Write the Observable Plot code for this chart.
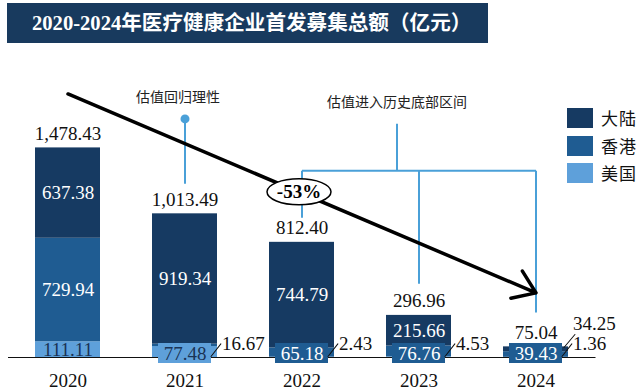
<!DOCTYPE html>
<html><head><meta charset="utf-8">
<script src="https://cdn.jsdelivr.net/npm/d3@7"></script>
<script src="https://cdn.jsdelivr.net/npm/@observablehq/plot@0.6"></script>
<style>
body{margin:0;background:#fff;width:640px;height:390px;overflow:hidden;position:relative;font-family:"Liberation Serif","Noto Sans CJK SC",serif;}
#title{position:relative;height:46px;}
#title .bar{position:absolute;left:7px;top:3px;width:481px;height:40px;background:#183a5e;color:#fff;font-weight:bold;font-size:20.6px;line-height:40px;padding-left:25px;box-sizing:border-box;white-space:nowrap;}
#legend{position:absolute;left:567px;top:108px;}
.item{display:flex;align-items:center;height:20px;margin-bottom:7.5px}
.sw{width:26px;height:20px;margin-right:8px}
.lab{font-family:"Noto Sans CJK SC",sans-serif;font-size:17px;color:#111;line-height:20px;letter-spacing:1px}
#chart svg{display:block}
</style></head>
<body>
<div id="title"><div class="bar">2020-2024年医疗健康企业首发募集总额（亿元）</div></div>
<div id="chart"></div>
<div id="legend"></div>
<script>
// ---- data ----
const years = ["2020", "2021", "2022", "2023", "2024"];
const regions = ["大陆", "香港", "美国"];
const mainland = [637.38, 919.34, 744.79, 215.66, 34.25];
const hongkong = [729.94, 16.67, 65.18, 76.76, 39.43];
const usa = [111.11, 77.48, 2.43, 4.53, 1.36];
const totals = [1478.43, 1013.49, 812.40, 296.96, 75.04];
const colors = ["#163a62", "#1f5c92", "#5ea0da"];

const dark = "#1a3355";
const fmt = d3.format(",.2f");

// stacked segments: 美国 bottom, 香港 middle, 大陆 top
const segRows = [];
years.forEach((year, i) => {
  let acc = 0;
  [["美国", usa[i]], ["香港", hongkong[i]], ["大陆", mainland[i]]].forEach(([region, v], k) => {
    segRows.push({year, region, value: v, y1: acc, y2: acc + v, order: k});
    acc += v;
  });
});
const bigThreshold = 100; // segments large enough to carry a label inside
const insideRows = segRows.filter(d => d.value > bigThreshold);
const boxRows = [], leaderRows = [];
years.forEach(year => {
  const small = segRows.filter(d => d.year === year && d.value <= bigThreshold);
  if (!small.length) return;
  const biggest = small.reduce((a, b) => (b.value > a.value ? b : a));
  boxRows.push(biggest);
  small.filter(d => d !== biggest).forEach((d, t) => leaderRows.push({...d, tier: t}));
});
const totalRows = years.map((year, i) => ({year, total: totals[i]}));

// ---- annotations (data units) ----
const trendArrow = [{x1: "2020", y1: 1859, x2: "2024", y2: 456}];
const calloutA = {year: "2021", text: "估值回归理性", textY: 1831, dotY: 1683, endY: 1225};
const calloutB = {text: "估值进入历史底部区间", year: "2023", textY: 1796, stemTop: 1648, barY: 1317};
const bracketLegs = [{year: "2022", end: 986}, {year: "2023", end: 521}, {year: "2024", end: 317}];
const badge = [{year: "2022", y: 1169, text: "-53%"}];

const ellipse = {
  draw(ctx) {
    const rx = 32, ry = 13, k = 0.5523;
    ctx.moveTo(rx, 0);
    ctx.bezierCurveTo(rx, ry * k, rx * k, ry, 0, ry);
    ctx.bezierCurveTo(-rx * k, ry, -rx, ry * k, -rx, 0);
    ctx.bezierCurveTo(-rx, -ry * k, -rx * k, -ry, 0, -ry);
    ctx.bezierCurveTo(rx * k, -ry, rx, -ry * k, rx, 0);
    ctx.closePath();
  }
};
const lineShape = {draw(ctx, l) { ctx.moveTo(0, 0); ctx.lineTo(0, -l); }};
const lineBlue = "#4aa0d8";
const cjk = '"Noto Sans CJK SC", sans-serif';

const chart = Plot.plot({
  width: 640,
  height: 344,
  marginLeft: 8,
  marginRight: 44.5,
  marginTop: 70,
  marginBottom: 33,
  style: {fontFamily: '"Liberation Serif", "Noto Sans CJK SC", serif', background: "white", color: "#111"},
  x: {domain: years, paddingInner: 0.447, paddingOuter: 0.2235, align: 0.5, axis: null},
  y: {domain: [0, 1700], axis: null},
  color: {domain: regions, range: colors},
  marks: [
    Plot.ruleY([0], {stroke: "#111", strokeWidth: 1.2}),
    Plot.barY(segRows, {x: "year", y1: "y1", y2: "y2", fill: "region"}),
    Plot.barY(boxRows, {x: "year", y1: () => 0, y2: () => 0, fill: "region",
      insetTop: -14, insetBottom: -6, insetLeft: 6, insetRight: 6}),
    Plot.text(insideRows, {x: "year", y: d => (d.y1 + d.y2) / 2, text: d => fmt(d.value),
      fill: d => d.region === "美国" ? dark : "white", fontSize: 19}),
    Plot.text(boxRows, {x: "year", y: () => 0, dy: -4, text: d => fmt(d.value),
      fill: d => d.region === "美国" ? dark : "white", fontSize: 19}),
    Plot.vector(leaderRows.filter(d => d.tier === 0), {x: "year", y: () => 0, dx: 26, dy: -1,
      length: 16, rotate: 38, anchor: "start", shape: lineShape, stroke: "#111", strokeWidth: 1}),
    Plot.text(leaderRows.filter(d => d.tier === 0), {x: "year", y: () => 0, dx: 37, dy: -14,
      text: d => fmt(d.value), textAnchor: "start", fill: "#111", fontSize: 19}),
    Plot.vector(leaderRows.filter(d => d.tier === 1), {x: "year", y: () => 0, dx: 28, dy: -10,
      length: 17, rotate: 40, anchor: "start", shape: lineShape, stroke: "#111", strokeWidth: 1}),
    Plot.text(leaderRows.filter(d => d.tier === 1), {x: "year", y: () => 0, dx: 37, dy: -34,
      text: d => fmt(d.value), textAnchor: "start", fill: "#111", fontSize: 19}),
    Plot.text(totalRows, {x: "year", y: "total", dy: -14, text: d => fmt(d.total), fill: "#111", fontSize: 19}),
    Plot.axisX({tickSize: 0, tickPadding: 16, fontSize: 19}),
    // callout A
    Plot.link([calloutA], {x1: "year", x2: "year", y1: "dotY", y2: "endY", stroke: lineBlue, strokeWidth: 2}),
    Plot.dot([calloutA], {x: "year", y: "dotY", r: 4.5, fill: lineBlue}),
    Plot.text([calloutA], {x: "year", y: "textY", dx: -7, text: "text", fontFamily: cjk, fontSize: 14, fill: "#222"}),
    // bracket B
    Plot.text([calloutB], {x: "year", y: "textY", dx: -22, text: "text", fontFamily: cjk, fontSize: 14, fill: "#222"}),
    Plot.link([calloutB], {x1: "year", x2: "year", y1: "stemTop", y2: "barY", dx: -22, stroke: lineBlue, strokeWidth: 2}),
    Plot.link([calloutB], {x1: () => "2022", x2: () => "2024", y1: "barY", y2: "barY", stroke: lineBlue, strokeWidth: 2}),
    Plot.link(bracketLegs, {x1: "year", x2: "year", y1: () => calloutB.barY, y2: "end", stroke: lineBlue, strokeWidth: 2}),
    // trend arrow
    Plot.arrow(trendArrow, {x1: "x1", y1: "y1", x2: "x2", y2: "y2", stroke: "#000", strokeWidth: 3.5, headLength: 11, headAngle: 70}),
    Plot.dot(badge, {x: "year", y: "y", dx: -3, symbol: ellipse, fill: "white", stroke: "#000", strokeWidth: 1.5}),
    Plot.text(badge, {x: "year", y: "y", dx: -3, text: "text", fontWeight: "bold", fontSize: 19, fill: "#000"})
  ]
});
document.getElementById("chart").appendChild(chart);

const legend = document.getElementById("legend");
regions.forEach((r, i) => {
  const item = document.createElement("div");
  item.className = "item";
  item.innerHTML = `<div class="sw" style="background:${colors[i]}"></div><div class="lab">${r}</div>`;
  legend.appendChild(item);
});
</script>
</body></html>
